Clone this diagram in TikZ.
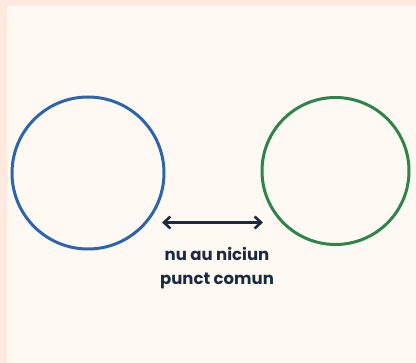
\documentclass[tikz,border=0pt]{standalone}
\usepackage{fontspec}
\setmainfont{Poppins}
\usetikzlibrary{arrows.meta}
\definecolor{frame}{HTML}{FFE9DF}
\definecolor{paper}{HTML}{FFF9F3}
\definecolor{ringblue}{HTML}{2D64AE}
\definecolor{ringgreen}{HTML}{2E844A}
\definecolor{ink}{HTML}{1B2A41}
\tikzset{
  ring/.style={circle, line width=3pt, inner sep=0pt, minimum size=#1},
  gap/.style={{Straight Barb[length=6.5pt,width=12pt,line width=2.6pt]}-{Straight Barb[length=6.5pt,width=12pt,line width=2.6pt]}, line width=2.7pt, draw=ink},
  caption/.style={font=\fontsize{16.5}{24}\selectfont\bfseries, text=ink, align=center}
}
\begin{document}
\begin{tikzpicture}[x=1pt, y=-1pt]
  % page with a pink edge along the top and left
  \fill[frame] (0,0) rectangle (416,363);
  \fill[paper] (7,6) rectangle (416,363);
  \useasboundingbox (0,0) rectangle (416,363);

  \node[ring=152pt, draw=ringblue] (left) at (88,173) {};
  \node[ring=147pt, draw=ringgreen] (right) at (335.5,171) {};

  \coordinate (a) at (162,222.5);
  \coordinate (b) at (263,222.5);
  \draw[gap] (a) -- (b);

  \node[caption] (lbl) at (217,268) {nu au niciun\\punct comun};
\end{tikzpicture}
\end{document}
